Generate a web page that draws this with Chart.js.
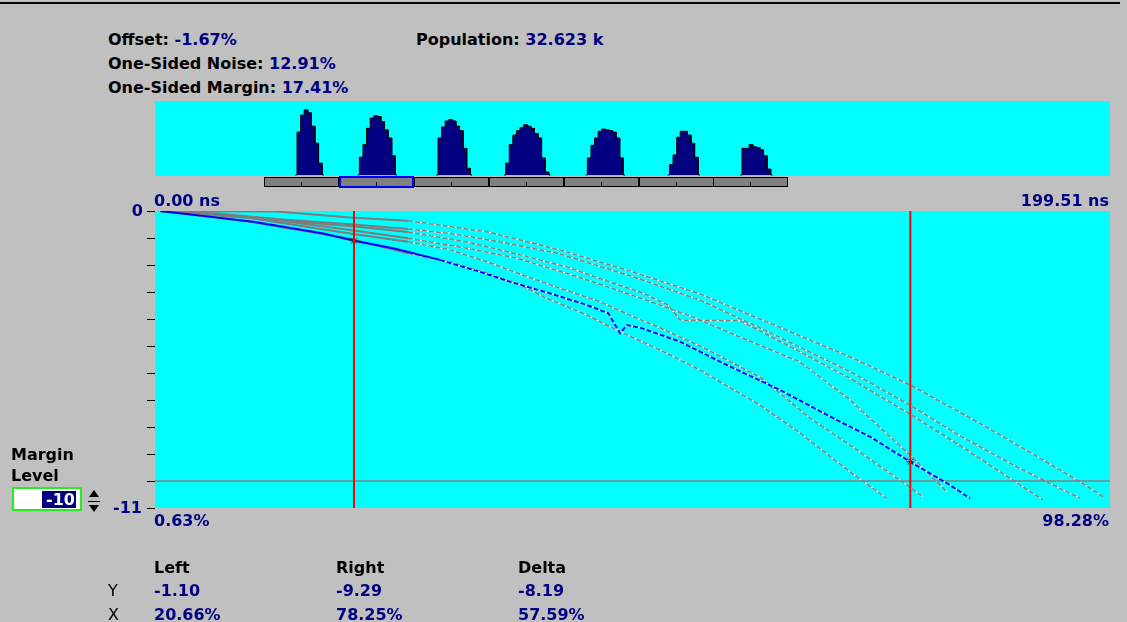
<!DOCTYPE html>
<html>
<head>
<meta charset="utf-8">
<script src="https://cdn.jsdelivr.net/npm/chart.js@4.4.0/dist/chart.umd.min.js"></script>
<style>
  html, body { margin:0; padding:0; width:1127px; height:622px; overflow:hidden; background:#c0c0c0;
    font-family:"DejaVu Sans", sans-serif; position:relative; }
  .t { position:absolute; font-size:16px; line-height:16px; font-weight:bold; white-space:nowrap; color:#000; }
  .n { color:#000080; }
  .reg { font-weight:normal; }
  .r { text-align:right; }
  #topRule { position:absolute; left:0; top:2px; width:1120px; height:2px; background:#000; }
  #histWrap { position:absolute; left:155px; top:101px; width:955px; height:75px; background:#00ffff; }
  #main { position:absolute; left:0; top:0; }
  .seg { position:absolute; top:177px; height:8px; width:73px; background:#808080; border:1px solid #000; }
  .seg i { position:absolute; left:36px; bottom:0; width:1px; height:4px; background:#000; }
  .seg.sel { border:2px solid #0000ff; top:176px; height:8px; width:71px; }
  .seg.sel i { left:35px; }
  #box { position:absolute; left:12px; top:487px; width:66px; height:20px; background:#fff; border:2px solid #22ee22; }
  #boxSel { position:absolute; left:28px; top:2px; width:34px; height:17px; background:#000080; color:#fff;
    font-weight:bold; font-size:16px; line-height:17px; text-align:right; padding-right:1px; box-sizing:border-box; }
  #spin { position:absolute; left:87px; top:487px; width:14px; height:30px; background:#c0c0c0; }
  #spin .up { position:absolute; left:2px; top:3px; width:0; height:0; border-left:5px solid transparent;
    border-right:5px solid transparent; border-bottom:7px solid #000; }
  #spin .dn { position:absolute; left:2px; top:18px; width:0; height:0; border-left:5px solid transparent;
    border-right:5px solid transparent; border-top:7px solid #000; }
  #spin .mid { position:absolute; left:1px; top:14px; width:12px; height:1px; background:#000; }
</style>
</head>
<body>
<div id="topRule"></div>

<div class="t" style="left:108px;top:32px;">Offset: <span class="n">-1.67%</span></div>
<div class="t" style="left:108px;top:56px;">One-Sided Noise: <span class="n">12.91%</span></div>
<div class="t" style="left:108px;top:80px;">One-Sided Margin: <span class="n">17.41%</span></div>
<div class="t" style="left:416px;top:32px;">Population: <span class="n">32.623 k</span></div>

<div id="histWrap"><canvas id="hist" width="955" height="75"></canvas></div>
<div id="ruler"></div>

<canvas id="main" width="1127" height="622"></canvas>

<div class="t n" style="left:154px;top:193px;">0.00 ns</div>
<div class="t n r" style="left:960px;width:149px;top:193px;">199.51 ns</div>
<div class="t n" style="left:154px;top:513px;">0.63%</div>
<div class="t n r" style="left:960px;width:149px;top:513px;">98.28%</div>

<div class="t" style="left:11px;top:447px;">Margin</div>
<div class="t" style="left:11px;top:468px;">Level</div>
<div id="box"><div id="boxSel">-10</div></div>
<div id="spin"><div class="up"></div><div class="mid"></div><div class="dn"></div></div>

<div class="t" style="left:154px;top:560px;">Left</div>
<div class="t" style="left:336px;top:560px;">Right</div>
<div class="t" style="left:518px;top:560px;">Delta</div>
<div class="t reg" style="left:108px;top:583px;">Y</div>
<div class="t reg" style="left:108px;top:607px;">X</div>
<div class="t n" style="left:154px;top:583px;">-1.10</div>
<div class="t n" style="left:336px;top:583px;">-9.29</div>
<div class="t n" style="left:518px;top:583px;">-8.19</div>
<div class="t n" style="left:154px;top:607px;">20.66%</div>
<div class="t n" style="left:336px;top:607px;">78.25%</div>
<div class="t n" style="left:518px;top:607px;">57.59%</div>

<script>
// ---- axis ranges ----
const xMin = 0.06, xMax = 98.92;          // percent of unit interval
const yMin = -11, yMax = 0;
const yTickValues = [0, -1, -2, -3, -4, -5, -6, -7, -8, -9, -10, -11];
const yTickLabels = ['0', '-11'];
const timeSpanNs = 199.51;

// ---- cursors and margin level ----
const cursorX = [20.66, 78.25];
const cursorY = [-1.10, -9.29];
const marginLevel = -10;

// ---- eye histogram (hits per 0.75 ns bin) ----
const binNs = 0.75;
const eyeStartNs = [29.67, 42.70, 59.12, 73.26, 90.33, 107.48, 122.63];
const eye1 = [58, 81, 88, 84, 66, 43, 16];
const eye2 = [24, 41, 63, 77, 80, 79, 72, 61, 50, 26];
const eye3 = [50, 65, 73, 75, 73, 66, 60, 36, 9];
const eye4 = [16, 41, 54, 60, 64, 68, 66, 63, 56, 50, 23, 4];
const eye5 = [23, 40, 50, 59, 62, 61, 60, 58, 50, 23];
const eye6 = [14, 27, 51, 59, 59, 54, 43, 24];
const eye7 = [36, 36, 41, 38, 37, 34, 26, 8];
const eyeCounts = [eye1, eye2, eye3, eye4, eye5, eye6, eye7];
const selectedEye = 1;

// ---- margin curves: [x %, level] ----
const curveA = [[0.6,0],[12.69,-0.02],[20.25,-0.24],[26.25,-0.36],[34.43,-0.77],[41.99,-1.44],[48.92,-2.19],
  [56.48,-3.07],[62.69,-4.00],[67.86,-4.78],[72.01,-5.40],[78.22,-6.44],[85.77,-7.93],[91.67,-9.15],[95.82,-10.03],[98.20,-10.58]];
const curveB = [[0.6,0],[6.48,-0.09],[12.69,-0.30],[20.25,-0.49],[26.25,-0.67],[30.60,-0.83],[35.77,-1.14],[41.99,-1.59],
  [50.27,-2.52],[56.48,-3.30],[62.69,-4.33],[72.01,-5.95],[78.22,-7.19],[83.39,-8.33],[89.29,-9.48],[95.82,-10.64]];
const curveC = [[0.6,0],[8.86,-0.19],[15.07,-0.41],[20.25,-0.56],[26.25,-0.78],[32.36,-1.15],[37.53,-1.59],[42.71,-2.07],
  [47.16,-2.63],[50.27,-3.00],[53.17,-3.48],[54.41,-4.04],[60.62,-4.07],[62.69,-4.44],[66.83,-5.22],[72.01,-6.20],
  [78.22,-7.52],[84.43,-8.93],[91.99,-10.70]];
const curveD = [[0.6,0],[10.93,-0.26],[20.25,-0.70],[26.25,-1.01],[32.36,-1.38],[37.53,-1.75],[42.71,-2.31],[46.85,-2.80],
  [50.27,-3.22],[55.75,-3.93],[60.62,-4.67],[66.83,-5.59],[72.01,-7.00],[78.22,-9.04],[82.02,-10.40]];
const curveE = [[0.6,0],[9.89,-0.26],[20.25,-0.83],[26.25,-1.14],[30.60,-1.44],[34.43,-1.88],[38.57,-2.43],[41.99,-2.86],
  [46.13,-3.36],[49.54,-3.91],[52.34,-4.33],[56.48,-5.00],[62.69,-6.15],[67.86,-7.67],[72.01,-8.67],[78.22,-10.24],[79.56,-10.58]];
const curveF = [[0.6,0],[9.89,-0.40],[20.25,-1.03],[26.25,-1.57],[30.60,-1.89],[34.01,-2.25],[37.50,-2.68],[40.61,-3.23],
  [44.75,-3.85],[48.20,-4.47],[52.34,-5.15],[56.48,-5.89],[62.69,-7.19],[66.83,-8.22],[72.01,-9.66],[75.80,-10.64]];
const curveSel = [[0.6,0],[5.24,-0.19],[10.24,-0.40],[14.73,-0.67],[17.48,-0.83],[20.66,-1.10],[24.73,-1.38],[29.56,-1.81],
  [33.70,-2.25],[36.81,-2.62],[40.95,-3.05],[44.75,-3.48],[46.99,-3.79],[48.20,-4.53],[48.92,-4.22],[50.44,-4.34],
  [54.41,-4.84],[58.89,-5.64],[64.76,-6.63],[70.63,-7.74],[74.08,-8.36],[78.25,-9.29],[82.36,-10.15],[84.43,-10.64]];
const grayCurves = [curveA, curveB, curveC, curveD, curveE, curveF];
const dashFrom = 26;

// ---------- sample ruler under the histogram ----------
(function buildRuler() {
  const ruler = document.getElementById('ruler');
  const left = 264, w = 74.9;
  for (let i = 0; i < eyeCounts.length; i++) {
    const d = document.createElement('div');
    d.className = 'seg' + (i === selectedEye ? ' sel' : '');
    d.style.left = Math.round(left + i * w) + 'px';
    d.appendChild(document.createElement('i'));
    ruler.appendChild(d);
  }
})();

// ---------- histogram ----------
function eyeOutline(start, counts) {
  const pts = [{x: start - 0.35, y: 0}, {x: start, y: 0}];
  counts.forEach((c, i) => {
    pts.push({x: start + i * binNs, y: c});
    pts.push({x: start + (i + 1) * binNs, y: c});
  });
  const end = start + counts.length * binNs;
  pts.push({x: end, y: 0}, {x: end + 0.35, y: 0});
  return pts;
}

new Chart(document.getElementById('hist'), {
  type: 'scatter',
  data: {
    datasets: eyeCounts.map((c, i) => ({
      data: eyeOutline(eyeStartNs[i], c),
      showLine: true, pointRadius: 0, borderColor: '#000000', borderWidth: 1,
      backgroundColor: '#000080', fill: 'origin', tension: 0
    }))
  },
  options: {
    responsive: false, animation: false, events: [],
    layout: { padding: 0 },
    plugins: { legend: { display: false }, tooltip: { enabled: false }, colors: { enabled: false } },
    scales: {
      x: { type: 'linear', display: false, min: 0, max: timeSpanNs },
      y: { display: false, min: -1.4, max: 100 }
    }
  }
});

// ---------- margin curves ----------
const toPts = arr => arr.map(p => ({x: p[0], y: p[1]}));
// split a curve into its solid head and its broken (dashed) tail
function splitCurve(arr) {
  const k = arr.findIndex(p => p[0] >= dashFrom);
  return { head: toPts(arr.slice(0, k + 1)), tail: toPts(arr.slice(k)) };
}

const plotFrame = {
  id: 'plotFrame',
  beforeDatasetsDraw(chart) {
    const {ctx, chartArea: a, scales: {y}} = chart;
    ctx.save();
    ctx.fillStyle = '#00ffff';
    ctx.fillRect(a.left, a.top, a.right - a.left, a.bottom - a.top);
    ctx.strokeStyle = '#000000';
    ctx.lineWidth = 1;
    yTickValues.forEach(v => {
      const py = Math.round(y.getPixelForValue(v)) + 0.5;
      ctx.beginPath(); ctx.moveTo(a.left - 8, py); ctx.lineTo(a.left, py); ctx.stroke();
    });
    ctx.fillStyle = '#000080';
    ctx.font = 'bold 16px "DejaVu Sans"';
    ctx.textAlign = 'right';
    ctx.textBaseline = 'middle';
    ctx.fillText(yTickLabels[0], a.left - 12, y.getPixelForValue(yMax) + 1);
    ctx.fillText(yTickLabels[1], a.left - 13, y.getPixelForValue(yMin) + 1);
    ctx.restore();
  }
};

const line = (data, color, width, dash, order) => ({
  data, showLine: true, pointRadius: 0, borderColor: color, backgroundColor: color,
  borderWidth: width, borderDash: dash, order, fill: false
});

const datasets = [];
// cursors (top)
cursorX.forEach(cx => datasets.push(line([{x: cx, y: yMax}, {x: cx, y: yMin}], '#ff0000', 2, [], 0)));
datasets.push({
  data: cursorX.map((cx, i) => ({x: cx, y: cursorY[i]})), showLine: false,
  pointStyle: 'star', pointRadius: 4, borderColor: '#303030', borderWidth: 1, backgroundColor: '#303030', order: 0
});
// selected curve
const sel = splitCurve(curveSel);
datasets.push(line(sel.head, '#0000ff', 2, [], 1));
datasets.push(line(sel.tail, '#0000ff', 1.8, [5, 2], 1));
datasets.push(line(sel.tail, '#ffffff', 1.2, [], 2));
// margin level
datasets.push(line([{x: xMin, y: marginLevel}, {x: xMax, y: marginLevel}], '#808080', 1.5, [], 3));
// other curves
grayCurves.forEach(c => {
  const s = splitCurve(c);
  datasets.push(line(s.head, '#7c7c7c', 2, [], 4));
  datasets.push(line(s.tail, '#808080', 1.5, [5, 2], 4));
  datasets.push(line(s.tail, '#ffffff', 1.1, [], 5));
});

new Chart(document.getElementById('main'), {
  type: 'scatter',
  data: { datasets },
  options: {
    responsive: false, animation: false, events: [],
    layout: { padding: { left: 155, top: 211, right: 17, bottom: 114 } },
    plugins: { legend: { display: false }, tooltip: { enabled: false }, colors: { enabled: false } },
    elements: { line: { tension: 0 } },
    scales: {
      x: { type: 'linear', display: false, min: xMin, max: xMax },
      y: { display: false, min: yMin, max: yMax }
    }
  },
  plugins: [plotFrame]
});
</script>
</body>
</html>
